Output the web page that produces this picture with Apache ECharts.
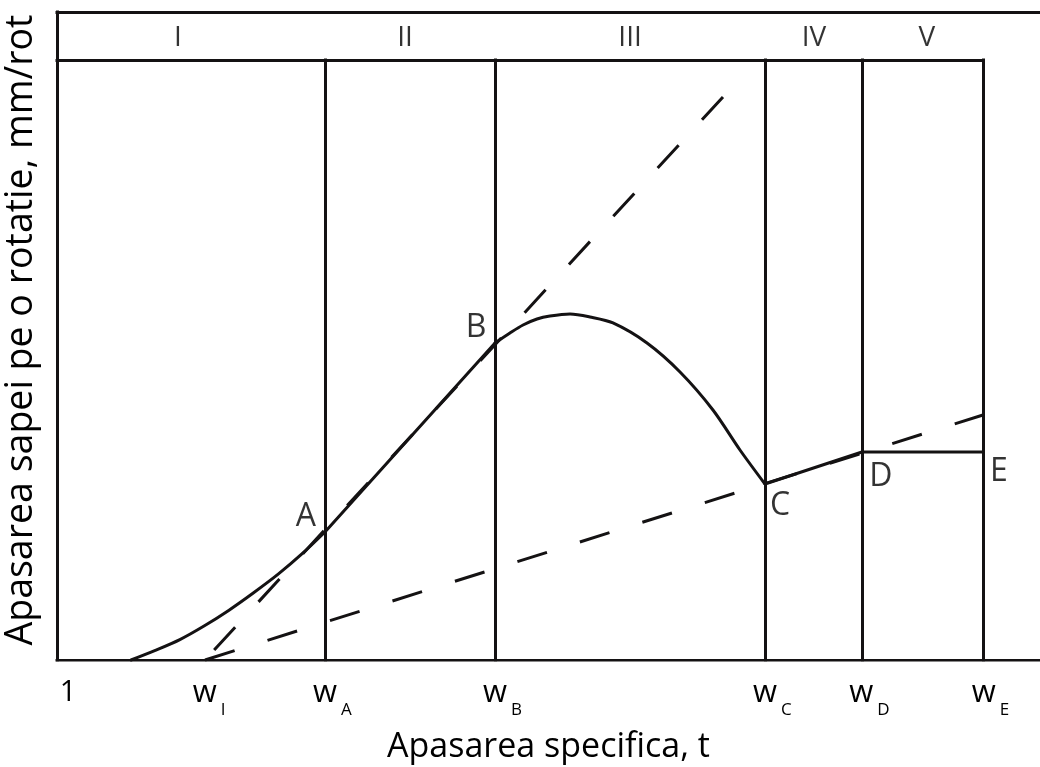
<!DOCTYPE html>
<html>
<head>
<meta charset="utf-8">
<title>Apasarea sapei pe o rotatie</title>
<script src="https://cdn.jsdelivr.net/npm/echarts@6/dist/echarts.min.js"></script>
<style>
  html, body { margin: 0; padding: 0; background: #ffffff; }
  #chart { width: 1040px; height: 767px; }
</style>
</head>
<body>
<div id="chart"></div>
<script>
// ---- data (x: relative specific load, y: penetration per revolution) ----
const zoneBounds = [27.26, 44.56, 72.02, 81.89, 94.2];   // w_A .. w_E
const wI = 15.06;
const headerTop = 108;
const headerBottom = 100;
const zoneNames = ['I', 'II', 'III', 'IV', 'V'];
const zoneCenters = [12.3, 35.4, 58.3, 77.0, 88.5];

const tickValues = [1.12, 15.06, 27.26, 44.56, 72.02, 81.89, 94.2];
const tickMain = ['1', 'w', 'w', 'w', 'w', 'w', 'w'];
const tickSub = ['', 'I', 'A', 'B', 'C', 'D', 'E'];

// solid curve, piece by piece
const rampCurve = [[7.53, 0], [10, 1.6], [12.5, 3.4], [15, 5.7], [17.5, 8.3], [20, 11.2],
  [22.5, 14.3], [25, 17.8], [27.26, 21.33]];
const lineAB = [[27.26, 21.33], [44.56, 52.83]];
const humpCurve = [[44.56, 52.83], [46.08, 54.5], [47.41, 55.83], [48.83, 56.83], [50.15, 57.33],
  [52.19, 57.67], [54.22, 57.17], [56.56, 56.17], [60.02, 52.83], [63.38, 48.0],
  [66.73, 41.67], [69.48, 35.0], [72.02, 29.33]];
const lineCDE = [[72.02, 29.33], [81.89, 34.67], [94.2, 34.67]];

// dashed reference lines
const dashUpper = [[67.75, 93.83], [wI, 0]];
const dashLower = [[wI, 0], [94.2, 40.83]];

const pointNames = ['A', 'B', 'C', 'D', 'E'];
const pointXY = [[27.26, 21.33], [44.56, 52.83], [72.02, 29.33], [81.89, 34.67], [94.2, 34.67]];

// ---- styling ----
const INK = '#141213';
const TEXT = '#000000';
const FONT = 'Open Sans';
const LW = 3;
const pointLabelOffset = { A: [-19, -15], B: [-19, -15], C: [15, 22], D: [19, 25], E: [16, 20] };

// frame: outer box, header band and the zone boundaries
const frameSegments = [
  [[0, 0], [0, headerTop]],
  [[0, headerTop], [100, headerTop]],
  [[0, headerBottom], [zoneBounds[zoneBounds.length - 1], headerBottom]],
  [[0, 0], [100, 0]]
].concat(zoneBounds.map(x => [[x, 0], [x, headerBottom]]));

function solid(data, smooth) {
  return {
    type: 'line', data: data, smooth: smooth ? 0.3 : false,
    symbol: 'none', clip: false, silent: true,
    lineStyle: { color: INK, width: LW, cap: 'round', join: 'round' }, z: 4
  };
}
function dashed(data) {
  return {
    type: 'line', data: data, symbol: 'none', clip: false, silent: true,
    lineStyle: { color: INK, width: LW, type: [31, 34.5], cap: 'butt' }, z: 3
  };
}

const chart = echarts.init(document.getElementById('chart'), null, { renderer: 'canvas' });

const option = {
  backgroundColor: '#ffffff',
  animation: false,
  grid: { left: 57, right: 0, top: 0, bottom: 107, containLabel: false, outerBoundsMode: 'none' },
  xAxis: {
    type: 'value', min: 0, max: 100,
    axisLine: { show: false }, axisTick: { show: false }, splitLine: { show: false },
    axisLabel: {
      customValues: tickValues,
      margin: 18,
      color: TEXT,
      formatter: function (v) {
        let idx = 0, best = Infinity;
        tickValues.forEach((t, i) => { const d = Math.abs(t - v); if (d < best) { best = d; idx = i; } });
        if (!tickSub[idx]) return '{n|' + tickMain[idx] + '}';
        const pad = tickSub[idx] === 'I' ? 'padI' : 'pad';
        return '{' + pad + '| }{w|' + tickMain[idx] + '}{s|' + tickSub[idx] + '}';
      },
      rich: {
        n: { fontFamily: FONT, fontSize: 29, color: TEXT, lineHeight: 30, verticalAlign: 'top' },
        w: { fontFamily: FONT, fontSize: 31, color: TEXT, lineHeight: 30, verticalAlign: 'top' },
        s: { fontFamily: FONT, fontSize: 17, color: TEXT, lineHeight: 17, verticalAlign: 'top', padding: [24, 0, 0, 4] },
        pad: { width: 15 },
        padI: { width: 8 }
      }
    },
    name: 'Apasarea specifica, t',
    nameLocation: 'middle',
    nameGap: 70,
    nameTextStyle: { fontFamily: FONT, fontSize: 34, color: TEXT }
  },
  yAxis: {
    type: 'value', min: 0, max: 110,
    axisLine: { show: false }, axisTick: { show: false }, splitLine: { show: false },
    axisLabel: { show: false },
    name: 'Apasarea sapei pe o rotatie, mm/rot',
    nameLocation: 'middle',
    nameGap: 17,
    nameTextStyle: { fontFamily: FONT, fontSize: 37.5, color: TEXT }
  },
  series: [
    {
      type: 'lines', coordinateSystem: 'cartesian2d', polyline: false, silent: true, z: 5,
      lineStyle: { color: INK, width: LW, opacity: 1, cap: 'square' },
      data: frameSegments.map(c => ({ coords: c }))
    },
    dashed(dashUpper),
    dashed(dashLower),
    solid(rampCurve, true),
    solid(lineAB, false),
    solid(humpCurve, true),
    solid(lineCDE, false),
    {
      type: 'scatter', symbolSize: 0, silent: true, z: 6,
      data: pointNames.map((n, i) => ({
        name: n, value: pointXY[i],
        label: { offset: pointLabelOffset[n] }
      })),
      label: {
        show: true, position: 'inside', formatter: '{b}',
        fontFamily: FONT, fontSize: 32, color: TEXT
      }
    },
    {
      type: 'scatter', symbolSize: 0, silent: true, z: 6,
      data: zoneNames.map((n, i) => ({ name: n, value: [zoneCenters[i], 103.6] })),
      label: {
        show: true, position: 'inside', formatter: '{b}',
        fontFamily: FONT, fontSize: 28, color: TEXT
      }
    }
  ]
};

chart.setOption(option);
</script>
</body>
</html>
